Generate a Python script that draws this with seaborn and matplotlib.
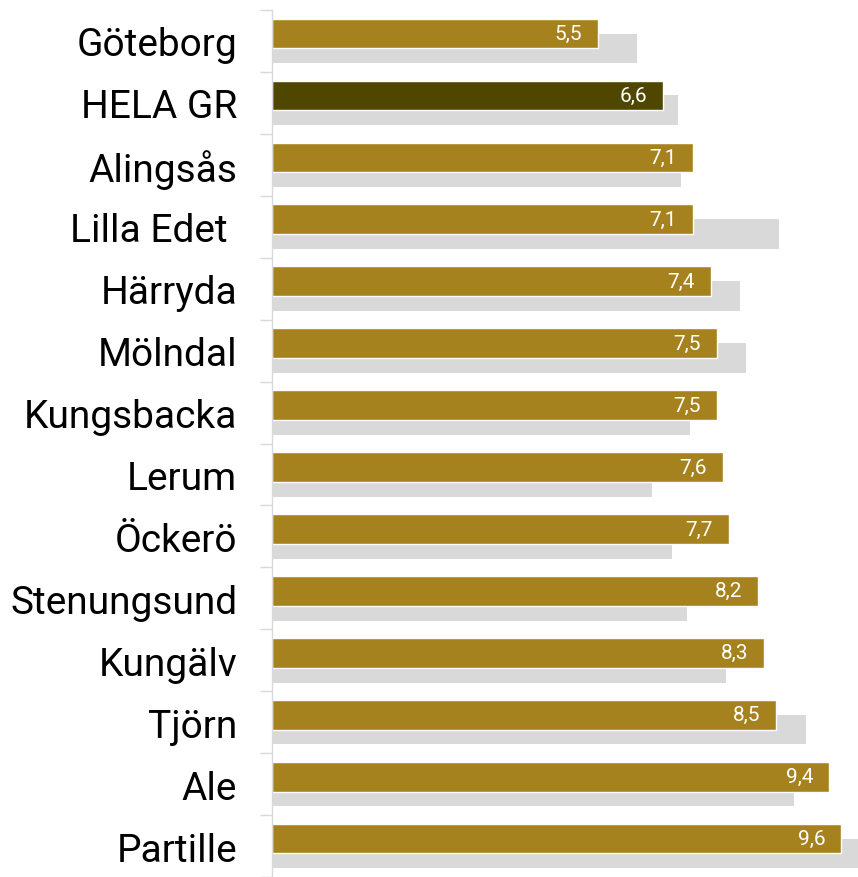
import numpy as np
import pandas as pd
import seaborn as sns
import matplotlib.pyplot as plt
from matplotlib.ticker import FixedLocator

# Data
kommuner = ["Göteborg", "HELA GR", "Alingsås", "Lilla Edet ", "Härryda", "Mölndal",
            "Kungsbacka", "Lerum", "Öckerö", "Stenungsund", "Kungälv", "Tjörn",
            "Ale", "Partille"]
varde_nu = [5.5, 6.6, 7.1, 7.1, 7.4, 7.5, 7.5, 7.6, 7.7, 8.2, 8.3, 8.5, 9.4, 9.6]
varde_fore = [6.15, 6.85, 6.9, 8.55, 7.9, 8.0, 7.05, 6.4, 6.75, 7.0, 7.65, 9.0, 8.8, 9.95]

GOLD = "#A6821E"
DARK = "#4F4700"
GREY = "#D9D9D9"

df = pd.DataFrame({"kommun": kommuner, "nu": varde_nu, "fore": varde_fore})
bar_colors = [DARK if k == "HELA GR" else GOLD for k in kommuner]

sns.set_style("white")
plt.rcParams['font.family'] = ['Roboto', 'DejaVu Sans']

fig = plt.figure(figsize=(8.58, 8.78), dpi=100)
ax = fig.add_axes([272 / 858, 0, 1 - 272 / 858, 1 - 11 / 878])

height = 0.48
offset = 0.12

# grey bars (previous value) behind, shifted down
sns.barplot(data=df, y="kommun", x="fore", color=GREY, width=height,
            orient="h", ax=ax, saturation=1, linewidth=0)
n_grey = len(ax.patches)
for p in ax.patches:
    p.set_y(p.get_y() + offset)

# gold bars in front, shifted up
sns.barplot(data=df, y="kommun", x="nu", hue="kommun", palette=bar_colors,
            width=height, orient="h", ax=ax, saturation=1, legend=False,
            edgecolor="white", linewidth=1)
for p in ax.patches[n_grey:]:
    p.set_y(p.get_y() - offset)

for i, v in enumerate(varde_nu):
    ax.text(v - 0.27, i - offset, f"{v:.1f}".replace(".", ","), color="white",
            ha="right", va="center", fontsize=15)

ax.set_xlim(0, 586 / 59.3)
ax.set_ylim(len(kommuner) - 0.5, -0.5)
ax.set_xlabel("")
ax.set_ylabel("")
ax.set_xticks([])

ax.yaxis.set_minor_locator(FixedLocator(np.arange(-0.5, len(kommuner), 1)))
ax.tick_params(axis="y", which="major", length=0, pad=25, labelsize=28,
               labelcolor="black")
ax.tick_params(axis="y", which="minor", length=9, color=GREY, width=1, left=True)

for s in ["top", "right", "bottom"]:
    ax.spines[s].set_visible(False)
ax.spines["left"].set_color(GREY)
ax.spines["left"].set_linewidth(1)

fig.savefig("out.png", dpi=100)
